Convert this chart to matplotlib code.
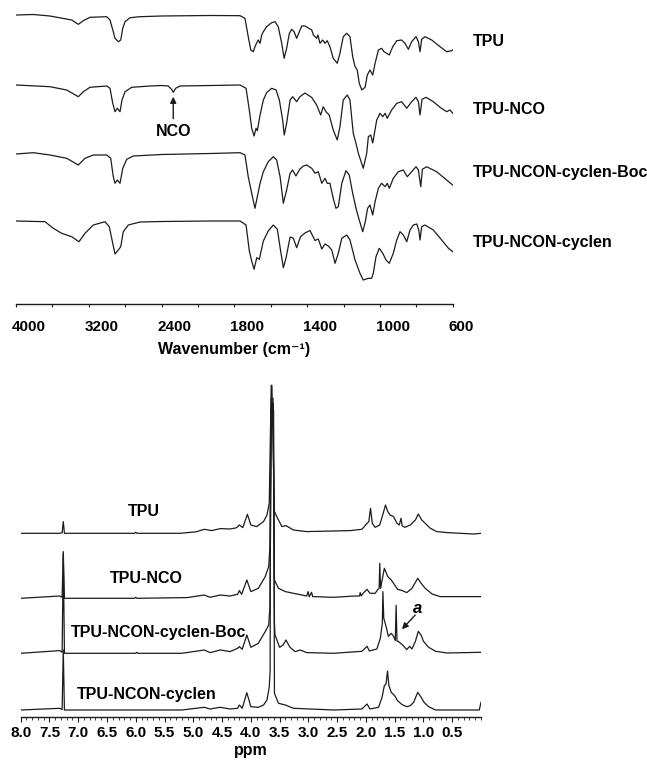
"""FTIR (top) and 1H NMR (bottom) stacked spectra of TPU and its derivatives."""

import numpy as np
import matplotlib.pyplot as plt
from matplotlib.transforms import ScaledTranslation

plt.rcParams['font.family'] = ['Liberation Sans', 'DejaVu Sans']
plt.rcParams['font.weight'] = 'bold'

LINE = '#1c1c1c'

# ---------------- FTIR data (wavenumber cm-1, relative transmittance) ----------------
ir_names = ['TPU', 'TPU-NCO', 'TPU-NCON-cyclen-Boc', 'TPU-NCON-cyclen']
ir_offsets = [0, -70, -139, -206]
ir_label_dy = [-26.7, -24, -19, -22]
ir_tick_wn = [4000, 3200, 2400, 1800, 1400, 1000, 600]
ir_minor_wn = [3600, 2800, 2100, 1600, 1200, 800]

ir_tpu = [(4000, 0), (3810, 0.5), (3626, -1), (3388, -5), (3315, -9.3), (3260, -5.7), (3187, -2.3),
          (3003, -1.7), (2967, -5), (2931, -16.7), (2912, -23.3), (2876, -26.7), (2849, -25),
          (2827, -13.3), (2802, -6.7), (2747, -2.7), (2637, -1.7), (2400, -1), (2000, -0.5),
          (1769, -0.7), (1742, -3.3), (1724, -21.7), (1710, -35), (1696, -36.7), (1687, -31.7),
          (1677, -27.7), (1669, -25), (1659, -28.3), (1650, -20), (1641, -16.7), (1623, -11.7),
          (1595, -7.7), (1577, -6.7), (1559, -11.7), (1540, -28.3), (1527, -43.3), (1513, -33.3),
          (1498, -18.3), (1485, -14.3), (1472, -16.7), (1458, -23.3), (1430, -11), (1412, -11),
          (1375, -15), (1366, -20), (1348, -23.3), (1341, -20), (1330, -28.3), (1315, -25),
          (1302, -28.3), (1290, -25.7), (1275, -31.7), (1257, -43.3), (1235, -48.3), (1220, -38.3),
          (1202, -21.7), (1183, -18.3), (1165, -21.7), (1150, -41.7), (1137, -51.7), (1125, -55),
          (1114, -68.3), (1100, -75), (1082, -72.3), (1070, -60), (1055, -55), (1040, -60),
          (1027, -48.3), (1009, -35), (991, -33.3), (978, -36.7), (963, -38.3), (949, -40),
          (930, -31.7), (908, -25.7), (881, -25), (863, -28.3), (844, -34.3), (826, -26.7),
          (802, -21.7), (789, -26.7), (780, -36.7), (771, -24.3), (753, -21.7), (716, -25),
          (670, -31.7), (634, -36.7), (606, -35.7), (600, -35)]

ir_nco = [(4000, 0), (3626, -1.7), (3443, -5), (3315, -11.7), (3260, -6.7), (3187, -2.3), (3003, -1),
          (2967, -3.3), (2937, -18.3), (2912, -26.7), (2887, -23.3), (2857, -26.7), (2835, -15),
          (2802, -6.7), (2728, -2.3), (2527, -1), (2400, -0.5), (2345, -1), (2317, -4.5),
          (2304, -7.3), (2284, -3.3), (2248, -1), (2000, -0.5), (1769, 0), (1736, -3.3),
          (1718, -25), (1705, -43.3), (1692, -51), (1681, -43.3), (1674, -45.7), (1659, -30),
          (1641, -15), (1623, -7.7), (1595, -3.3), (1571, -5), (1553, -15), (1535, -35),
          (1526, -50), (1513, -38.3), (1494, -15), (1480, -11.7), (1458, -16.7), (1440, -11.7),
          (1412, -8), (1375, -12.5), (1348, -20), (1326, -30), (1312, -21.7), (1297, -26.7),
          (1279, -30), (1257, -45), (1235, -55), (1220, -41.7), (1202, -15), (1180, -10),
          (1165, -15), (1147, -48.3), (1132, -58.3), (1119, -68.3), (1092, -83.3), (1073, -68.3),
          (1064, -51.7), (1051, -50), (1040, -58), (1018, -35), (1000, -28.3), (985, -31.7),
          (972, -28.3), (960, -33.3), (936, -25), (908, -18.3), (881, -16.7), (853, -23.3),
          (826, -16.7), (802, -12.3), (789, -16.7), (780, -30), (769, -14.3), (747, -12.3),
          (707, -16.7), (670, -22.3), (634, -26.7), (615, -25), (600, -28.3)]

ir_boc = [(4000, 0), (3810, 1.3), (3626, -1), (3443, -4.3), (3315, -11), (3242, -4.3), (3150, -1),
          (3003, -1), (2959, -4.3), (2931, -22.7), (2912, -29.3), (2887, -26), (2857, -29.3),
          (2827, -14.3), (2783, -5.3), (2711, -2), (2400, -0.5), (2000, 0.5), (1769, 1.3),
          (1742, -1), (1724, -22.7), (1705, -39.3), (1687, -54.3), (1674, -42.7), (1659, -29.3),
          (1641, -17.7), (1614, -7.7), (1586, -2.7), (1568, -6), (1549, -22.7), (1531, -49.3),
          (1513, -36), (1494, -19.3), (1480, -16), (1462, -22), (1440, -15), (1421, -12),
          (1403, -11), (1375, -14.3), (1357, -19.3), (1339, -17.7), (1320, -29.3), (1302, -24.3),
          (1290, -29.3), (1275, -29.3), (1257, -44.3), (1242, -54.3), (1229, -52.7), (1210, -29.3),
          (1187, -16.7), (1169, -21), (1150, -39.3), (1132, -54.3), (1114, -66), (1095, -77.7),
          (1081, -67.7), (1068, -54.3), (1055, -51), (1040, -61), (1027, -47.7), (1009, -34.3),
          (991, -29.3), (972, -32.7), (960, -29.3), (949, -34.3), (927, -24.3), (899, -17.7),
          (872, -16), (850, -22.7), (826, -17.7), (802, -12.7), (789, -16), (776, -32.7),
          (767, -15.3), (744, -12.7), (689, -17.7), (634, -26), (601, -31)]

ir_cyclen = [(4000, 0), (3681, -0.7), (3590, -7.3), (3498, -12.3), (3388, -15.7), (3308, -20.7),
             (3242, -12.3), (3150, -4), (3022, -0.7), (2975, -5.7), (2937, -22.3), (2912, -33),
             (2876, -29), (2849, -25.7), (2821, -10.7), (2766, -4), (2637, -1), (2400, -0.5),
             (2000, 0), (1769, 0), (1736, -4), (1718, -30), (1705, -40), (1692, -48.3),
             (1677, -36.7), (1663, -38.3), (1641, -20), (1614, -10), (1586, -4), (1564, -8.3),
             (1546, -30), (1531, -46.7), (1516, -36.7), (1494, -16), (1476, -17.3), (1458, -26.7),
             (1436, -15.5), (1412, -12), (1385, -9.5), (1357, -19.5), (1339, -18), (1320, -28),
             (1302, -23), (1284, -25), (1265, -29), (1247, -42.3), (1229, -32.3), (1210, -17.3),
             (1183, -14), (1165, -19), (1137, -39), (1110, -52.3), (1092, -59), (1064, -57.3),
             (1046, -57.3), (1037, -52.3), (1022, -35.7), (1004, -27.3), (985, -32.3), (967, -39),
             (949, -42.3), (927, -32.3), (908, -19), (890, -10.7), (872, -14), (853, -20.7),
             (835, -9), (817, -4), (798, -3), (787, -9), (780, -19), (771, -5.7), (753, -4),
             (707, -9), (661, -19), (624, -27.3), (600, -30.7)]

nco_band = 2304  # isocyanate band marked with an arrow

# ---------------- 1H NMR data (ppm, relative intensity) ----------------
nmr_names = ['TPU', 'TPU-NCO', 'TPU-NCON-cyclen-Boc', 'TPU-NCON-cyclen']
nmr_offsets = [176.7, 111.7, 56.7, 0]
nmr_label_pos = [(5.86, 21.6), (5.82, 20), (5.60, 20.6), (5.81, 15.7)]

nmr_tpu = [(8.0, 0), (7.32, 0), (7.28, 0.5), (7.26, 11.7), (7.24, 0), (6.02, 0), (6.0, 1), (5.98, 0),
           (5.23, 0), (4.95, 1.5), (4.81, 4), (4.68, 2.7), (4.53, 4.7), (4.36, 4.3), (4.25, 5.5),
           (4.20, 8.3), (4.14, 5.7), (4.06, 19), (4.00, 8.3), (3.90, 6.7), (3.78, 11.7),
           (3.72, 18.3), (3.68, 30), (3.646, 148), (3.634, 148), (3.59, 22),
           (3.55, 16.7), (3.46, 6.7), (3.39, 7.7), (3.26, 3.3), (3.03, 1.7), (2.27, 2.7),
           (2.07, 4), (1.98, 10), (1.95, 11.7), (1.92, 25), (1.89, 10), (1.84, 6), (1.76, 8.3),
           (1.70, 20), (1.66, 28.3), (1.62, 21.7), (1.58, 18.3), (1.52, 16.7), (1.46, 10),
           (1.42, 8.3), (1.39, 15), (1.37, 7.3), (1.32, 6), (1.23, 8.3), (1.14, 13.3), (1.09, 19.3),
           (1.03, 13.3), (0.97, 10), (0.88, 5), (0.77, 1.7), (0.59, 0.7), (0.13, -0.7), (0.0, 0)]

nmr_nco = [(8.0, 0), (7.32, 2.3), (7.28, 1), (7.26, 46.7), (7.24, 0), (6.02, 0), (6.0, 1), (5.98, 0),
           (5.11, 0.7), (4.81, 3.3), (4.71, 1), (4.53, 3.3), (4.36, 2.3), (4.23, 4), (4.20, 7.7),
           (4.16, 4), (4.07, 18.3), (4.00, 6.7), (3.87, 10), (3.75, 21.7), (3.69, 31.7), (3.67, 50),
           (3.645, 200), (3.615, 200), (3.59, 18.3), (3.52, 10), (3.40, 6.7), (3.26, 5), (3.03, 2.3),
           (3.005, 6.7), (2.985, 1.5), (2.945, 6), (2.925, 1.7), (2.56, 1), (2.19, 2.3), (2.11, 2.3),
           (2.10, 5.7), (2.08, 2.5), (2.05, 5), (1.98, 9), (1.93, 5), (1.84, 5), (1.80, 8.3),
           (1.77, 10), (1.76, 35), (1.745, 10), (1.68, 30), (1.62, 21.7), (1.56, 18.3), (1.50, 13.3),
           (1.45, 9), (1.37, 7.7), (1.29, 5.7), (1.20, 10), (1.10, 20), (1.04, 15), (0.97, 10),
           (0.85, 4.3), (0.71, 1.7), (0.0, 1.7)]

nmr_boc = [(8.0, 0), (7.32, 2.7), (7.28, 1), (7.26, 100), (7.24, 0), (6.0, 0), (5.98, 1), (5.96, 0),
           (5.2, 0), (4.81, 3.3), (4.71, 0.7), (4.53, 3.3), (4.36, 1.7), (4.23, 5), (4.20, 6.7),
           (4.15, 4), (4.07, 18.3), (4.00, 6), (3.87, 10), (3.75, 21.7), (3.69, 28.3), (3.67, 45),
           (3.64, 250), (3.61, 250), (3.59, 30), (3.58, 18.3), (3.50, 6), (3.44, 8.3), (3.39, 13.3),
           (3.32, 6), (3.23, 1.7), (3.14, 3.3), (3.03, 0.7), (2.56, 0), (2.07, 2), (1.98, 7),
           (1.94, 2.3), (1.81, 4.3), (1.75, 15), (1.715, 30), (1.705, 61.7), (1.69, 35), (1.65, 27),
           (1.61, 17), (1.56, 20), (1.52, 17), (1.49, 12.7), (1.475, 48), (1.46, 12), (1.44, 12),
           (1.37, 8.7), (1.29, 3.7), (1.24, 7), (1.20, 4.3), (1.14, 12), (1.09, 22), (1.04, 18),
           (1.00, 12), (0.91, 6), (0.79, 2), (0.59, 0.3), (0.0, 1)]

nmr_cyclen = [(8.0, 0), (7.32, 1.7), (7.28, 0.5), (7.26, 60), (7.24, 0), (5.2, 0), (4.81, 2.7),
              (4.71, 1), (4.53, 2.7), (4.36, 1), (4.23, 1.7), (4.20, 5), (4.15, 1.7), (4.07, 17.3),
              (4.00, 3.3), (3.87, 2.7), (3.78, 5), (3.72, 10), (3.68, 23), (3.665, 40), (3.655, 300),
              (3.605, 300), (3.59, 16.7), (3.52, 6.7), (3.40, 5), (3.26, 1.7), (2.85, 0.7), (2.56, 0),
              (2.07, 1), (1.98, 6), (1.93, 1), (1.78, 2.7), (1.72, 12.7), (1.68, 24.3), (1.65, 26),
              (1.625, 39), (1.60, 24.3), (1.56, 17.7), (1.50, 14.3), (1.45, 9.3), (1.37, 5.3),
              (1.29, 3.3), (1.23, 4.3), (1.17, 7.7), (1.10, 17.7), (1.04, 12.7), (0.99, 7.7),
              (0.91, 3.3), (0.79, 0), (0.03, 0), (0.0, 7.7)]

nmr_major = [8.0, 7.5, 7.0, 6.5, 6.0, 5.5, 5.0, 4.5, 4.0, 3.5, 3.0, 2.5, 2.0, 1.5, 1.0, 0.5]

IR_WN_ASC = ir_tick_wn[::-1]


def ir_forward(w):
    # piecewise axis: equal spacing between the labelled wavenumbers
    return np.interp(w, IR_WN_ASC, np.arange(len(IR_WN_ASC)))


def ir_inverse(p):
    return np.interp(p, np.arange(len(IR_WN_ASC)), IR_WN_ASC)


def strip_axes(ax):
    for side in ['left', 'right', 'top']:
        ax.spines[side].set_visible(False)
    ax.spines['bottom'].set_linewidth(1.0)
    ax.spines['bottom'].set_color(LINE)
    ax.set_yticks([])
    ax.patch.set_alpha(0)


fig = plt.figure(figsize=(6.47, 7.6), dpi=100)

# ---------------- FTIR panel ----------------
ax_ir = fig.add_axes([16 / 647, 1 - 304.3 / 760, 436.8 / 647, 299.3 / 760])
ax_ir.set_xscale('function', functions=(ir_forward, ir_inverse))
for spec, off, name, dy in zip([ir_tpu, ir_nco, ir_boc, ir_cyclen], ir_offsets, ir_names, ir_label_dy):
    wn, tr = zip(*spec)
    ax_ir.plot(wn, np.array(tr) + off, color=LINE, lw=0.9)
    ax_ir.text(1.046, off + dy, name, transform=ax_ir.get_yaxis_transform(),
               ha='left', va='center', fontsize=11.5, fontweight='bold')

ax_ir.annotate('NCO', xy=(nco_band, -81.7), xytext=(nco_band, -116.7), ha='center', va='center',
               fontsize=11.5, fontweight='bold',
               arrowprops=dict(arrowstyle='-|>', color=LINE, lw=1, mutation_scale=9, shrinkA=2, shrinkB=0))

ax_ir.set_xlim(4000, 600)
ax_ir.set_ylim(-289.3, 10)
strip_axes(ax_ir)
ax_ir.set_xticks(ir_tick_wn, [str(w) for w in ir_tick_wn])
ax_ir.set_xticks(ir_minor_wn, minor=True)
ax_ir.tick_params(axis='x', which='both', direction='out', length=2, width=0.8, color=LINE,
                  pad=9, labelsize=11)
shift = ScaledTranslation(-0.045, 0, fig.dpi_scale_trans)
for lbl in ax_ir.xaxis.get_majorticklabels():
    lbl.set_horizontalalignment('left')
    lbl.set_transform(lbl.get_transform() + shift)
ax_ir.set_xlabel('Wavenumber (cm⁻¹)', fontsize=11.5, fontweight='bold', labelpad=6)

# ---------------- 1H NMR panel ----------------
ax_nmr = fig.add_axes([20.7 / 647, 1 - 717.3 / 760, 460.3 / 647, 337.3 / 760])
for spec, off, name, (lx, ly) in zip([nmr_tpu, nmr_nco, nmr_boc, nmr_cyclen], nmr_offsets,
                                     nmr_names, nmr_label_pos):
    ppm, inten = zip(*spec)
    ax_nmr.plot(ppm, np.array(inten) + off, color=LINE, lw=0.9)
    ax_nmr.text(lx, off + ly, name, ha='center', va='center', fontsize=11.5, fontweight='bold')

boc_off = nmr_offsets[2]
ax_nmr.text(1.10, boc_off + 45, 'a', ha='center', va='center', fontsize=12,
            fontweight='bold', fontstyle='italic')
ax_nmr.annotate('', xy=(1.374, boc_off + 24), xytext=(1.143, boc_off + 38.3),
                arrowprops=dict(arrowstyle='-|>', color=LINE, lw=1, mutation_scale=9,
                                shrinkA=0, shrinkB=0))

ax_nmr.set_xlim(8.0, 0.0)
ax_nmr.set_ylim(-7.3, 330)
strip_axes(ax_nmr)
ax_nmr.set_xticks(nmr_major, [f'{v:.1f}' for v in nmr_major])
ax_nmr.set_xticks(np.round(np.arange(0, 81) / 10, 1), minor=True)
ax_nmr.tick_params(axis='x', which='major', direction='out', length=3.5, width=0.8, color=LINE,
                   pad=3, labelsize=11)
ax_nmr.tick_params(axis='x', which='minor', direction='out', length=2, width=0.6, color=LINE)
ax_nmr.set_xlabel('ppm', fontsize=11.5, fontweight='bold', labelpad=2)

fig.savefig('out.png', dpi=100)
